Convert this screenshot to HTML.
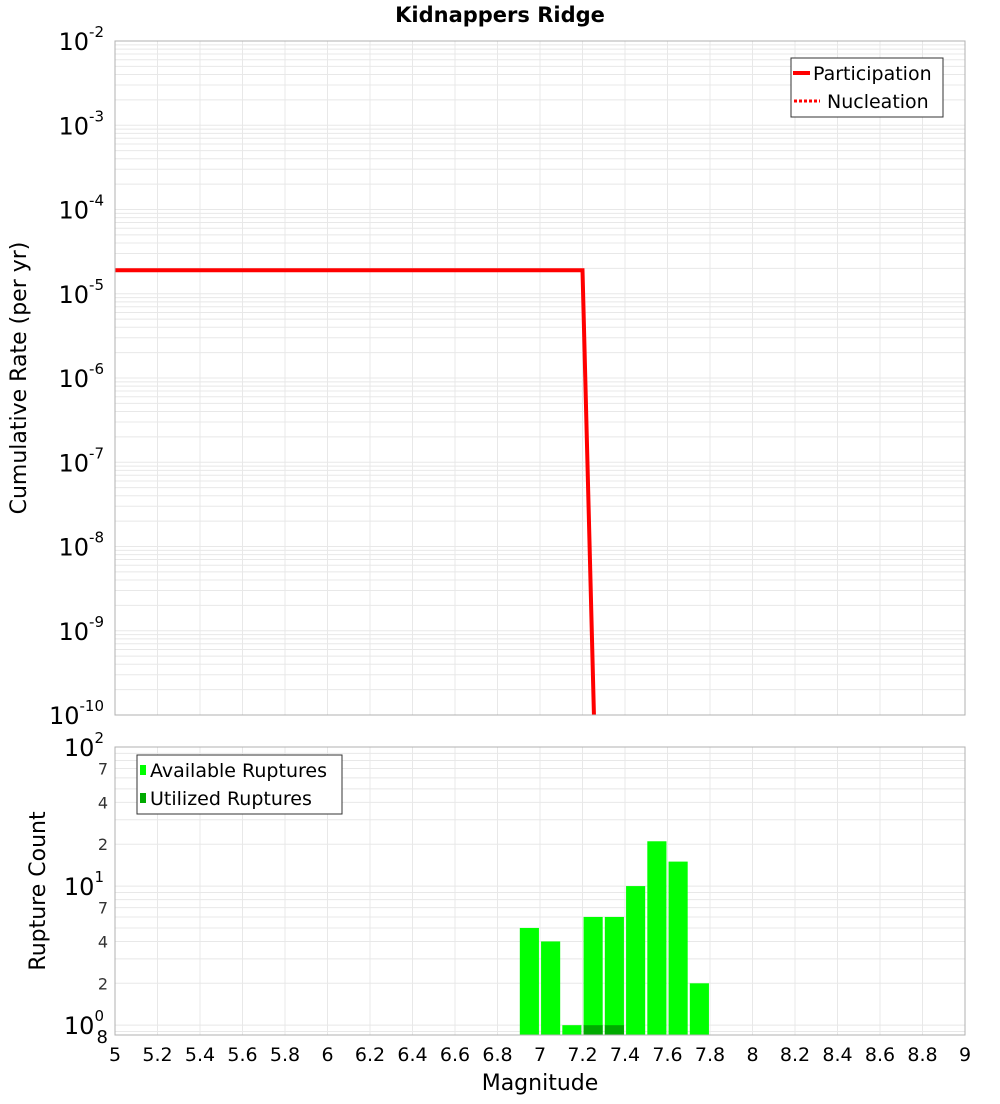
<!DOCTYPE html>
<html><head><meta charset="utf-8"><style>
body{margin:0;background:#fff;font-family:"DejaVu Sans","Liberation Sans",sans-serif}
svg text{font-family:"DejaVu Sans","Liberation Sans",sans-serif}
</style></head><body>
<svg id="c" width="1000" height="1100" xmlns="http://www.w3.org/2000/svg">
<text x="500" y="22" text-anchor="middle" font-size="21" font-weight="bold">Kidnappers Ridge</text>
<g id="topPlot"></g>
<g id="botPlot"></g>
<text transform="translate(26,378) rotate(-90)" text-anchor="middle" font-size="22">Cumulative Rate (per yr)</text>
<text transform="translate(45,891) rotate(-90)" text-anchor="middle" font-size="22">Rupture Count</text>
<text x="540" y="1090" text-anchor="middle" font-size="22">Magnitude</text>
</svg>
<script>
const xTicks=[5,5.2,5.4,5.6,5.8,6,6.2,6.4,6.6,6.8,7,7.2,7.4,7.6,7.8,8,8.2,8.4,8.6,8.8,9];
const rateExps=[-2,-3,-4,-5,-6,-7,-8,-9,-10];
const partMags=[5,7.2,7.3];
const partRates=[1.9e-5,1.9e-5,3e-15];
const barMags=[6.95,7.05,7.15,7.25,7.35,7.45,7.55,7.65,7.75];
const availCounts=[5,4,1,6,6,10,21,15,2];
const utilCounts=[0,0,0,1,1,0,0,0,0];
const NS="http://www.w3.org/2000/svg";
const X0=115,X1=965;
const xs=m=>X0+(m-5)/4*(X1-X0);
const T0=41,T1=715;
const yt=v=>T0+(-2-Math.log10(v))/8*(T1-T0);
const B0=747,B1=1035,BMIN=0.85,BMAX=100;
const yb=v=>B1-(Math.log10(v)-Math.log10(BMIN))/(Math.log10(BMAX)-Math.log10(BMIN))*(B1-B0);
function el(p,t,a){const e=document.createElementNS(NS,t);for(const k in a)e.setAttribute(k,a[k]);p.appendChild(e);return e;}
const topG=document.getElementById('topPlot'),botG=document.getElementById('botPlot');
for(let d=-10;d<-2;d++)for(let k=1;k<10;k++){const y=yt(k*Math.pow(10,d));const g=el(topG,'line',{x1:X0,x2:X1,y1:y,y2:y,stroke:'#e8e8e8','stroke-width':1});

}
xTicks.forEach(m=>{const g=el(topG,'line',{x1:xs(m),x2:xs(m),y1:T0,y2:T1,stroke:'#e8e8e8'});

});
rateExps.forEach(e=>{const y=yt(Math.pow(10,e));const t=el(topG,'text',{x:104,y:y+9,'text-anchor':'end','font-size':24});


t.innerHTML='10<tspan dy="-13" font-size="15">'+e+'</tspan>';});
const cp=el(topG,'clipPath',{id:'cpt'});el(cp,'rect',{x:X0,y:T0,width:X1-X0,height:T1-T0});
let d=partMags.map((m,i)=>(i?'L':'M')+xs(m)+' '+yt(partRates[i])).join(' ');
const ln=el(topG,'path',{d:d,fill:'none',stroke:'#ff0000','stroke-width':4,'clip-path':'url(#cpt)'});


el(topG,'rect',{x:X0,y:T0,width:X1-X0,height:T1-T0,fill:'none',stroke:'#b0b0b0'});
const lg=el(topG,'g',{});


el(lg,'rect',{x:791,y:58,width:152,height:59,fill:'#fff',stroke:'#333'});
el(lg,'line',{x1:793,x2:810,y1:73,y2:73,stroke:'#f00','stroke-width':4});
el(lg,'line',{x1:794,x2:820,y1:101,y2:101,stroke:'#f00','stroke-width':3,'stroke-dasharray':'3,2'});
el(lg,'text',{x:813,y:80,'font-size':19}).textContent='Participation';
el(lg,'text',{x:827,y:108,'font-size':19}).textContent='Nucleation';
for(let d=-1;d<2;d++)for(let k=1;k<10;k++){const v=k*Math.pow(10,d);if(v<BMIN||v>BMAX)continue;const y=yb(v);const g=el(botG,'line',{x1:X0,x2:X1,y1:y,y2:y,stroke:'#e8e8e8'});

}
xTicks.forEach(m=>{const g=el(botG,'line',{x1:xs(m),x2:xs(m),y1:B0,y2:B1,stroke:'#e8e8e8'});

});
[[1,'0'],[10,'1'],[100,'2']].forEach(([v,e])=>{const t=el(botG,'text',{x:104,y:yb(v)+9,'text-anchor':'end','font-size':24});


t.innerHTML='10<tspan dy="-13" font-size="15">'+e+'</tspan>';});
[2,4,7,20,40,70].forEach(v=>{const t=el(botG,'text',{x:108,y:yb(v)+6,'text-anchor':'end','font-size':16,fill:'#333'});


t.textContent=String(v).charAt(0);});
el(botG,'text',{x:108,y:yb(0.85)+8,'text-anchor':'end','font-size':18}).textContent='8';
const cb=el(botG,'clipPath',{id:'cpb'});el(cb,'rect',{x:X0,y:B0,width:X1-X0,height:B1-B0});
barMags.forEach((m,i)=>{const x=xs(m-0.045),w=xs(m+0.045)-x;const y=yb(availCounts[i]);
const r=el(botG,'rect',{x:x,y:y,width:w,height:B1-y,fill:'#00ff00','clip-path':'url(#cpb)'});


if(utilCounts[i]>0){const yu=yb(utilCounts[i]);const u=el(botG,'rect',{x:x,y:yu,width:w,height:B1-yu,fill:'#00aa00'});

}});
el(botG,'rect',{x:X0,y:B0,width:X1-X0,height:B1-B0,fill:'none',stroke:'#b0b0b0'});
xTicks.forEach(m=>{const t=el(botG,'text',{x:xs(m),y:1061,'text-anchor':'middle','font-size':19});


t.textContent=String(m);});
const bl=el(botG,'g',{});


el(bl,'rect',{x:137,y:755,width:205,height:59,fill:'#fff',stroke:'#333'});
el(bl,'rect',{x:140,y:765,width:6,height:10,fill:'#00ff00'});
el(bl,'rect',{x:140,y:793,width:6,height:10,fill:'#00aa00'});
el(bl,'text',{x:150,y:777,'font-size':19}).textContent='Available Ruptures';
el(bl,'text',{x:150,y:805,'font-size':19}).textContent='Utilized Ruptures';
</script>
</body></html>
